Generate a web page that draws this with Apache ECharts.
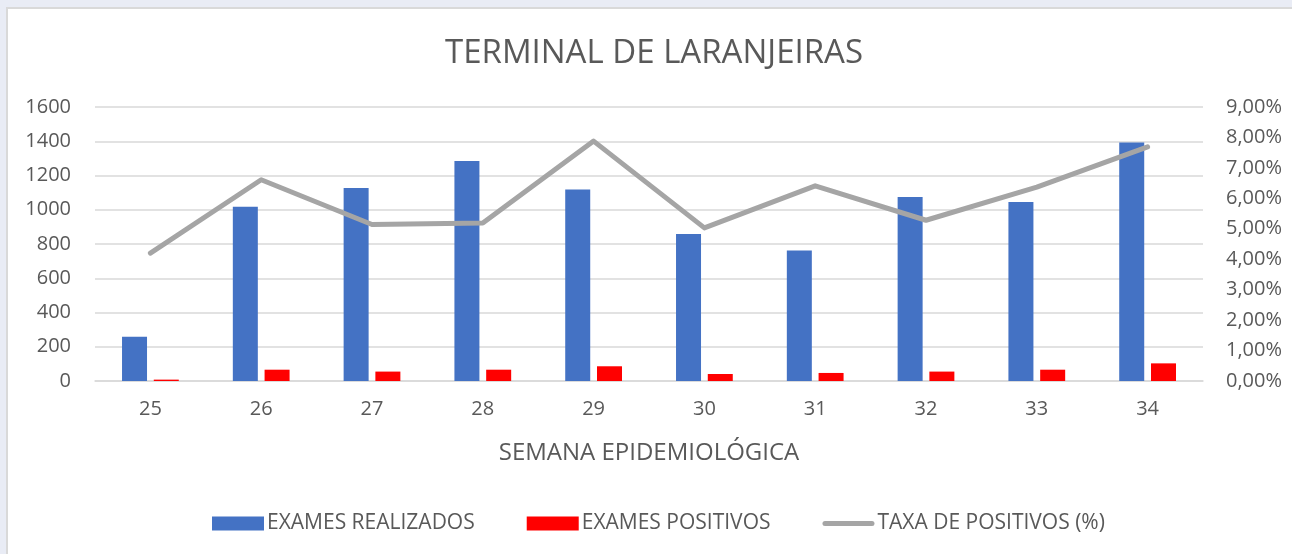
<!DOCTYPE html>
<html>
<head>
<meta charset="utf-8">
<script src="https://cdn.jsdelivr.net/npm/echarts@6/dist/echarts.min.js"></script>
<style>
  html, body { margin: 0; padding: 0; background: #fff; }
  #wrap { position: relative; width: 1292px; height: 554px; overflow: hidden; }
  .strip-top { position: absolute; left: 0; top: 0; width: 1292px; height: 7px; background: #e9ecf5; }
  .strip-left { position: absolute; left: 0; top: 0; width: 6px; height: 554px; background: #e9ecf5; }
  .frame { position: absolute; left: 6px; top: 7px; width: 1300px; height: 560px; border-top: 2px solid #d9d9d9; border-left: 2px solid #d9d9d9; }
  #chart { position: absolute; left: 0; top: 0; width: 1292px; height: 554px; }
</style>
</head>
<body>
<div id="wrap">
  <div class="strip-top"></div>
  <div class="strip-left"></div>
  <div class="frame"></div>
  <div id="chart"></div>
</div>
<script>
const semanas = ['25', '26', '27', '28', '29', '30', '31', '32', '33', '34'];
const examesRealizados = [258, 1017, 1127, 1285, 1118, 858, 762, 1075, 1045, 1392];
const examesPositivos = [8, 66, 55, 66, 86, 41, 47, 55, 66, 103];
const taxaPositivos = [4.20, 6.61, 5.14, 5.19, 7.88, 5.03, 6.41, 5.28, 6.37, 7.69];

const corTexto = '#595959';
const fonte = '"Open Sans", sans-serif';

const chart = echarts.init(document.getElementById('chart'));

chart.setOption({
  backgroundColor: 'transparent',
  title: {
    text: 'TERMINAL DE LARANJEIRAS',
    left: 445,
    top: 37,
    padding: 0,
    textStyle: { color: corTexto, fontFamily: fonte, fontSize: 33, fontWeight: 'normal' }
  },
  legend: {
    bottom: 15,
    left: 207,
    itemWidth: 52,
    itemHeight: 14,
    itemGap: 52,
    textStyle: { color: corTexto, fontFamily: fonte, fontSize: 21, padding: [0, 0, 0, -2] },
    data: [
      { name: 'EXAMES REALIZADOS', icon: 'rect' },
      { name: 'EXAMES POSITIVOS', icon: 'rect' },
      { name: 'TAXA DE POSITIVOS (%)', icon: 'path://M2.5,0 H49.5 A2.5,2.5 0 0 1 49.5,5 H2.5 A2.5,2.5 0 0 1 2.5,0 Z' }
    ]
  },
  grid: { left: 95, right: 89, top: 107, bottom: 173 },
  xAxis: {
    type: 'category',
    data: semanas,
    name: 'SEMANA EPIDEMIOLÓGICA',
    nameLocation: 'middle',
    nameGap: 60,
    nameTextStyle: { color: corTexto, fontFamily: fonte, fontSize: 24 },
    axisLine: { lineStyle: { color: '#d9d9d9', width: 1.5 } },
    axisTick: { show: false },
    axisLabel: { color: corTexto, fontFamily: fonte, fontSize: 20, margin: 18 }
  },
  yAxis: [
    {
      type: 'value',
      min: 0,
      max: 1600,
      interval: 200,
      axisLine: { show: false },
      axisTick: { show: false },
      axisLabel: { color: corTexto, fontFamily: fonte, fontSize: 20, margin: 24, formatter: v => String(v) },
      splitLine: { lineStyle: { color: '#d9d9d9', width: 1.5 } }
    },
    {
      type: 'value',
      min: 0,
      max: 9,
      interval: 1,
      axisLine: { show: false },
      axisTick: { show: false },
      splitLine: { show: false },
      axisLabel: {
        color: corTexto, fontFamily: fonte, fontSize: 20, margin: 23,
        formatter: v => v.toFixed(2).replace('.', ',') + '%'
      }
    }
  ],
  series: [
    {
      name: 'EXAMES REALIZADOS',
      type: 'bar',
      data: examesRealizados,
      barWidth: 25,
      barGap: '27%',
      itemStyle: { color: '#4472C4' }
    },
    {
      name: 'EXAMES POSITIVOS',
      type: 'bar',
      data: examesPositivos,
      barWidth: 25,
      barGap: '27%',
      itemStyle: { color: '#FF0000' }
    },
    {
      name: 'TAXA DE POSITIVOS (%)',
      type: 'line',
      yAxisIndex: 1,
      data: taxaPositivos,
      symbol: 'none',
      lineStyle: { color: '#A5A5A5', width: 5, cap: 'round', join: 'round' },
      itemStyle: { color: '#A5A5A5' }
    }
  ]
});
</script>
</body>
</html>
